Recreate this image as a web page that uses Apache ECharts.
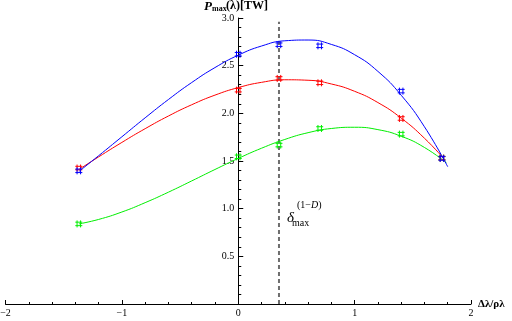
<!DOCTYPE html>
<html>
<head>
<meta charset="utf-8">
<script src="https://cdn.jsdelivr.net/npm/echarts@6/dist/echarts.min.js"></script>
<style>html,body{margin:0;padding:0;background:#fff}#c{width:512px;height:321px}</style>
</head>
<body>
<div id="c"></div>
<script>
// measured points (with error-bar markers)
var pointX = [-1.37, 0, 0.35, 0.70, 1.40, 1.75];
var bluePoints = [1.397, 2.62, 2.72, 2.708, 2.233, 1.527];
var redPoints = [1.426, 2.243, 2.366, 2.32, 1.946, 1.53];
var greenPoints = [0.84, 1.544, 1.667, 1.841, 1.782, 1.53];
// fitted curves
var curveX = [-1.37, -1.2, -1.0, -0.8, -0.6, -0.4, -0.2, 0, 0.2, 0.4, 0.6, 0.8, 1.0, 1.2, 1.4, 1.6];
var blueCurve = [1.39, 1.555, 1.754, 1.953, 2.145, 2.323, 2.480, 2.61, 2.706, 2.761, 2.769, 2.723, 2.615, 2.440, 2.190, 1.859];
var redCurve = [1.41, 1.543, 1.695, 1.839, 1.972, 2.090, 2.191, 2.27, 2.325, 2.352, 2.347, 2.308, 2.231, 2.113, 1.950, 1.739];
var greenCurve = [0.84, 0.887, 0.965, 1.063, 1.173, 1.291, 1.411, 1.527, 1.634, 1.726, 1.797, 1.841, 1.854, 1.829, 1.760, 1.642];
var blueEnd = [1.80, 1.44];
var redEnd = [1.77, 1.52];
var greenEnd = [1.79, 1.48];
var dashX = 0.35;
var dashY = [0, 2.96];
var xTicks = [-2, -1, 0, 1, 2];
var yTicks = [0.5, 1.0, 1.5, 2.0, 2.5, 3.0];

function pairs(xs, ys, end) {
  var out = xs.map(function (x, i) { return [x, ys[i]]; });
  if (end) out.push(end);
  return out;
}
var SERIF = 'Liberation Serif';
var hash = 'path://M2,0L2,8M6,0L6,8M0,2L8,2M0,6L8,6';
function curve(name, data, color) {
  return { name: name, type: 'line', data: data, smooth: true, showSymbol: false,
    lineStyle: { color: color, width: 1 }, z: 2, silent: true, animation: false };
}
function marks(name, ys, color) {
  return { name: name, type: 'scatter', data: pairs(pointX, ys), symbol: hash, symbolSize: 7,
    itemStyle: { color: 'transparent', borderColor: color, borderWidth: 1, opacity: 1 }, z: 3, animation: false };
}
var GL = 5.5, GR = 41;
var gridW = 512 - GL - GR;
var chart = echarts.init(document.getElementById('c'), null, { renderer: 'canvas' });
chart.setOption({
  animation: false,
  grid: { left: GL, right: GR, top: 18, bottom: 17, containLabel: false, outerBoundsMode: 'none' },
  xAxis: {
    type: 'value', min: -2, max: 2, interval: 1,
    axisLine: { onZero: true, lineStyle: { color: '#000', width: 1 } },
    axisTick: { inside: true, length: 4, lineStyle: { color: '#000' } },
    minorTick: { show: true, splitNumber: 5, length: 2, lineStyle: { color: '#000' } },
    splitLine: { show: false },
    axisLabel: { fontFamily: SERIF, fontSize: 10, color: '#000', margin: 4,
      formatter: function (v) { return xTicks.indexOf(v) < 0 ? '' : (v < 0 ? '\u2212' + Math.abs(v) : String(v)); } }
  },
  yAxis: {
    type: 'value', min: 0, max: 3, interval: 0.5, position: 'left',
    offset: -gridW / 2,
    axisLine: { onZero: false, lineStyle: { color: '#000', width: 1 } },
    axisTick: { inside: true, length: 5, lineStyle: { color: '#000' } },
    minorTick: { show: true, splitNumber: 5, length: 3, lineStyle: { color: '#000' } },
    splitLine: { show: false },
    axisLabel: { fontFamily: SERIF, fontSize: 10, color: '#000', margin: 4,
      formatter: function (v) { return yTicks.indexOf(v) < 0 ? '' : v.toFixed(1); } }
  },
  series: [
    { name: 'dash', type: 'line', data: [[dashX, dashY[0]], [dashX, dashY[1]]], showSymbol: false,
      lineStyle: { color: '#6e6e6e', width: 2, type: [4, 3] }, z: 1, silent: true },
    curve('green fit', pairs(curveX, greenCurve, greenEnd), '#00ee00'),
    curve('red fit', pairs(curveX, redCurve, redEnd), '#ff0000'),
    curve('blue fit', pairs(curveX, blueCurve, blueEnd), '#0000ff'),
    marks('green', greenPoints, '#00ee00'),
    marks('red', redPoints, '#ff0000'),
    marks('blue', bluePoints, '#0000ff')
  ],
  graphic: [
    { type: 'text', left: 204, top: 0, style: { text: 'P', font: 'italic bold 13px "Liberation Serif"', fill: '#000' } },
    { type: 'text', left: 212, top: 5, style: { text: 'max', font: 'bold 8px "Liberation Serif"', fill: '#000' } },
    { type: 'text', left: 226, top: 0, style: { text: '(\u03bb)[TW]', font: 'bold 12px "Liberation Serif"', fill: '#000' } },
    { type: 'text', left: 478, top: 299, style: { text: '\u0394\u03bb/\u03c1\u03bb', font: 'bold 11px "Liberation Serif"', fill: '#000' } },
    { type: 'text', left: 287, top: 211, style: { text: '\u03b4', font: 'italic 15px "Liberation Serif"', fill: '#000' } },
    { type: 'text', left: 297, top: 200, style: { text: '{a|(1\u2212}{b|D}{a|)}', rich: {
      a: { fontFamily: SERIF, fontSize: 10, fill: '#000' },
      b: { fontFamily: SERIF, fontSize: 10, fontStyle: 'italic', fill: '#000' } } } },
    { type: 'text', left: 292, top: 218, style: { text: 'max', font: '10px "Liberation Serif"', fill: '#000' } }
  ]
});
</script>
</body>
</html>
